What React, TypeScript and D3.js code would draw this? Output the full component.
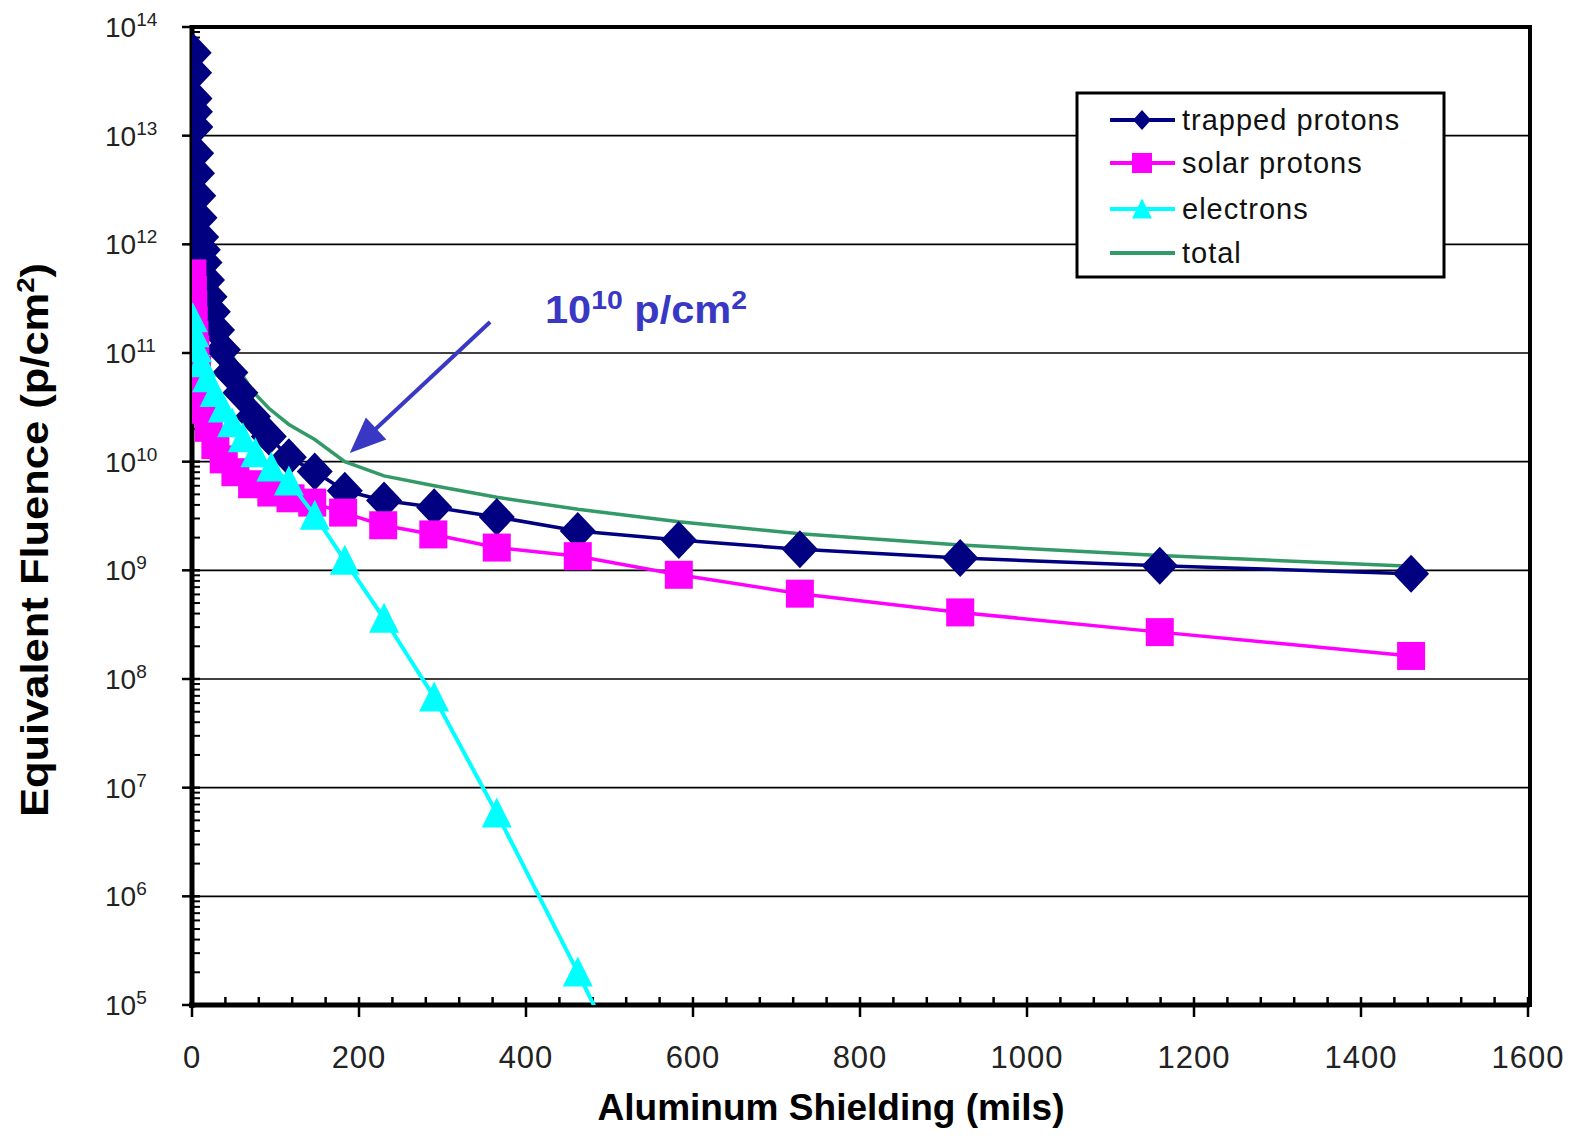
import React from "react";
import * as d3 from "d3";

// shielding thickness (mils) and equivalent fluence (p/cm2)
const trappedX = [2, 2.5, 3, 3.5, 4, 5, 6, 7.5, 9, 11, 13, 15, 18, 21, 25, 30, 37, 46, 58, 73, 92, 116, 147, 183, 230, 290, 365, 462, 583, 728, 920, 1159, 1460];
const trappedY = [5.8e13, 3.8e13, 2.2e13, 1.66e13, 1.2e13, 6.9e12, 4.5e12, 2.8e12, 1.76e12, 1.17e12, 8.9e11, 6.8e11, 4.7e11, 3.3e11, 2.4e11, 1.63e11, 1.07e11, 6.6e10, 4.3e10, 2.6e10, 1.7e10, 1.1e10, 8.1e9, 5.4e9, 4.4e9, 3.8e9, 3.1e9, 2.3e9, 1.9e9, 1.56e9, 1.3e9, 1.1e9, 9.3e8];

const solarX = [0.5, 1, 1.5, 2, 3, 4, 6, 9, 14, 20, 28, 38, 52, 72, 95, 118, 144, 181, 229, 289, 365, 462, 583, 728, 920, 1159, 1460];
const solarY = [5.4e11, 3.8e11, 2.8e11, 2.0e11, 1.47e11, 1.08e11, 7e10, 4.6e10, 3e10, 2.05e10, 1.42e10, 1.05e10, 8e9, 6.2e9, 5.2e9, 4.6e9, 4.2e9, 3.4e9, 2.6e9, 2.14e9, 1.62e9, 1.35e9, 9.1e8, 6.1e8, 4.1e8, 2.7e8, 1.63e8];

const elecX = [1, 3, 6, 11, 18, 27, 37, 48, 61, 76, 95, 116, 147, 183, 230, 290, 365, 462, 583];
const elecY = [2.1e11, 1.53e11, 1.11e11, 8.1e10, 5.9e10, 4.3e10, 3.1e10, 2.27e10, 1.65e10, 1.2e10, 8.9e9, 6.6e9, 3.2e9, 1.23e9, 3.6e8, 6.8e7, 5.8e6, 2.0e5, 2.5e3];

const totalX = [2, 5, 11, 21, 37, 58, 73, 92, 116, 147, 183, 230, 290, 365, 462, 583, 728, 920, 1159, 1460];
const totalY = [5.85e13, 7.1e12, 1.3e12, 3.9e11, 1.4e11, 6.7e10, 4.4e10, 3.1e10, 2.2e10, 1.6e10, 1.0e10, 7.4e9, 6.0e9, 4.7e9, 3.65e9, 2.8e9, 2.17e9, 1.71e9, 1.37e9, 1.09e9];

const xTicks = [0, 200, 400, 600, 800, 1000, 1200, 1400, 1600];
const yExps = [5, 6, 7, 8, 9, 10, 11, 12, 13, 14];
const legendNames = ["trapped protons", "solar protons", "electrons", "total"];

const NAVY = "#000080";
const MAG = "#FF00FF";
const CYAN = "#00FFFF";
const GREEN = "#339966";
const ANNO = "#3838C4";

const x = d3.scaleLinear().domain([0, 1600]).range([192, 1528]);
const y = d3.scaleLog().domain([1e5, 1e14]).range([1005, 27]);

const zip = (xs: number[], ys: number[]) => xs.map((v, i) => [v, ys[i]] as [number, number]);
const lineGen = d3.line<[number, number]>().x((d) => x(d[0])).y((d) => y(d[1]));
const inRange = (d: [number, number]) => d[1] >= 1e5 && d[1] <= 1e14;

function diamond(cx: number, cy: number, w: number, h: number) {
  return `M${cx},${cy - h}L${cx + w},${cy}L${cx},${cy + h}L${cx - w},${cy}Z`;
}
function triangle(cx: number, cy: number, s: number) {
  return `M${cx},${cy - s * 1.05}L${cx + s},${cy + s * 0.95}L${cx - s},${cy + s * 0.95}Z`;
}

export default function App() {
  const trapped = zip(trappedX, trappedY);
  const solar = zip(solarX, solarY);
  const elec = zip(elecX, elecY);
  const total = zip(totalX, totalY);

  const minorX = d3.range(40, 1600, 40).filter((v) => v % 200 !== 0);
  const minorY: number[] = [];
  for (let e = 5; e < 14; e++) for (let m = 2; m <= 9; m++) minorY.push(m * Math.pow(10, e));

  // annotation arrow (data coords)
  const aStart = [357, 1.93e11];
  const aTip = [189, 1.2e10];
  const sx = x(aStart[0]), sy = y(aStart[1]), tx = x(aTip[0]), ty = y(aTip[1]);
  const len = Math.hypot(tx - sx, ty - sy);
  const ux = (tx - sx) / len, uy = (ty - sy) / len;
  const hl = 36, hw = 15;
  const bx = tx - ux * hl, by = ty - uy * hl;
  const head = `M${tx},${ty}L${bx - uy * hw},${by + ux * hw}L${bx + uy * hw},${by - ux * hw}Z`;

  const legY = [120, 163, 209, 253];

  return (
    <svg
      width={1570}
      height={1136}
      style={{ position: "absolute", left: 0, top: 0, background: "#fff" }}
      fontFamily="'Liberation Sans', Arial, sans-serif"
    >
      <defs>
        <clipPath id="plot">
          <rect x={192} y={27} width={1336} height={978} />
        </clipPath>
      </defs>

      {/* grid */}
      {yExps.slice(1, -1).map((e) => (
        <line key={e} x1={192} x2={1528} y1={y(Math.pow(10, e))} y2={y(Math.pow(10, e))} stroke="#000" strokeWidth={1.6} />
      ))}

      {/* y ticks */}
      {minorY.map((v) => (
        <line key={v} x1={192} x2={200} y1={y(v)} y2={y(v)} stroke="#000" strokeWidth={2} />
      ))}
      {yExps.map((e) => (
        <line key={e} x1={182} x2={200} y1={y(Math.pow(10, e))} y2={y(Math.pow(10, e))} stroke="#000" strokeWidth={2.5} />
      ))}
      {yExps.map((e) => (
        <text key={e} x={105} y={y(Math.pow(10, e)) + 10} fontSize={28} fill="#222">
          10
          <tspan fontSize={19} dy={-11}>{e}</tspan>
        </text>
      ))}

      {/* x ticks */}
      {minorX.map((v) => (
        <line key={v} x1={x(v)} x2={x(v)} y1={997} y2={1005} stroke="#000" strokeWidth={2.5} />
      ))}
      {xTicks.map((v) => (
        <line key={v} x1={x(v)} x2={x(v)} y1={997} y2={1017} stroke="#000" strokeWidth={2.5} />
      ))}
      {xTicks.map((v) => (
        <text key={v} x={x(v)} y={1068} fontSize={31} letterSpacing={1} textAnchor="middle" fill="#222">
          {v}
        </text>
      ))}

      {/* frame */}
      <line x1={190} x2={1532} y1={27} y2={27} stroke="#000" strokeWidth={4} />
      <line x1={1530} x2={1530} y1={25} y2={1007} stroke="#000" strokeWidth={4} />
      <line x1={192} x2={192} y1={25} y2={1008} stroke="#000" strokeWidth={5} />
      <line x1={189} x2={1530} y1={1005} y2={1005} stroke="#000" strokeWidth={5} />

      {/* series */}
      <g clipPath="url(#plot)">
        <path d={lineGen(total) ?? ""} fill="none" stroke={GREEN} strokeWidth={3.5} />
        <path d={lineGen(trapped) ?? ""} fill="none" stroke={NAVY} strokeWidth={3.5} />
        {trapped.filter(inRange).map((d, i) => (
          <path key={i} d={diamond(x(d[0]), y(d[1]), 18, 19)} fill={NAVY} />
        ))}
        <path d={lineGen(solar) ?? ""} fill="none" stroke={MAG} strokeWidth={3.5} />
        {solar.filter(inRange).map((d, i) => (
          <rect key={i} x={x(d[0]) - 14} y={y(d[1]) - 14} width={28} height={28} fill={MAG} />
        ))}
        <path d={lineGen(elec) ?? ""} fill="none" stroke={CYAN} strokeWidth={4} />
        {elec.filter(inRange).map((d, i) => (
          <path key={i} d={triangle(x(d[0]), y(d[1]), 15)} fill={CYAN} />
        ))}
      </g>

      {/* annotation */}
      <line x1={sx} y1={sy} x2={bx + ux * 4} y2={by + uy * 4} stroke={ANNO} strokeWidth={4} />
      <path d={head} fill={ANNO} />
      <text x={545} y={323} fontSize={38} fontWeight="bold" fill={ANNO} textLength={202} lengthAdjust="spacingAndGlyphs">
        10
        <tspan fontSize={26} dy={-14}>10</tspan>
        <tspan dy={14}> p/cm</tspan>
        <tspan fontSize={26} dy={-14}>2</tspan>
      </text>

      {/* legend */}
      <rect x={1077} y={93} width={367} height={184} fill="#fff" stroke="#000" strokeWidth={3} />
      {legendNames.map((name, i) => {
        const ly = legY[i];
        const color = [NAVY, MAG, CYAN, GREEN][i];
        return (
          <g key={name}>
            <line x1={1110} x2={1175} y1={ly} y2={ly} stroke={color} strokeWidth={4} />
            {i === 0 && <path d={diamond(1142, ly, 9, 10)} fill={NAVY} />}
            {i === 1 && <rect x={1132} y={ly - 10} width={20} height={20} fill={MAG} />}
            {i === 2 && <path d={triangle(1142, ly, 10)} fill={CYAN} />}
            <text x={1182} y={ly + 10} fontSize={29} letterSpacing={1} fill="#111">
              {name}
            </text>
          </g>
        );
      })}

      {/* axis titles */}
      <text x={831} y={1120} fontSize={36} fontWeight="bold" textAnchor="middle" textLength={467} lengthAdjust="spacingAndGlyphs">
        Aluminum Shielding (mils)
      </text>
      <text
        transform="translate(48,540) rotate(-90)"
        fontSize={38}
        fontWeight="bold"
        textAnchor="middle"
        textLength={554}
        lengthAdjust="spacingAndGlyphs"
      >
        Equivalent Fluence (p/cm
        <tspan fontSize={24} dy={-14}>2</tspan>
        <tspan dy={14}>)</tspan>
      </text>
    </svg>
  );
}
